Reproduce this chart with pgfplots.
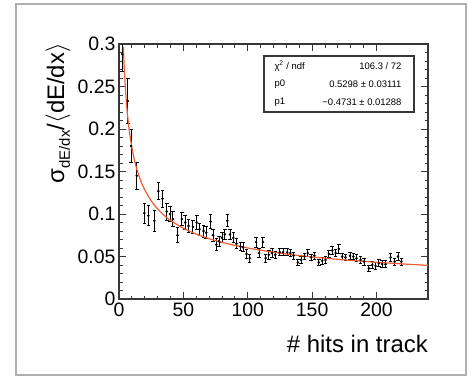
\documentclass[border=0pt]{standalone}
\usepackage{fontspec}
\setmainfont{Liberation Sans}
\usepackage{pgfplots}
\pgfplotsset{compat=1.18}
\definecolor{fitred}{RGB}{238,92,52}
\definecolor{axgray}{RGB}{55,55,55}
\definecolor{framegray}{RGB}{175,175,175}
\pgfplotstableread{
x y e
2.5 0.288 0.020
6.8 0.233 0.026
9.3 0.180 0.019
13.8 0.145 0.016
19.7 0.101 0.012
22.8 0.098 0.012
27.5 0.092 0.012
30.6 0.127 0.010
33.8 0.118 0.010
37.1 0.103 0.010
39.7 0.100 0.009
41.9 0.094 0.009
45.5 0.075 0.009
48.8 0.094 0.008
51.4 0.090 0.008
54.0 0.086 0.008
57.4 0.085 0.008
60.4 0.090 0.008
62.5 0.082 0.007
65.7 0.080 0.007
67.7 0.078 0.007
71.1 0.091 0.008
73.1 0.075 0.007
75.6 0.064 0.007
77.7 0.068 0.006
80.0 0.072 0.006
82.2 0.076 0.006
84.2 0.092 0.007
86.2 0.076 0.006
88.8 0.072 0.006
91.3 0.065 0.006
94.3 0.062 0.005
96.3 0.061 0.005
99.0 0.053 0.005
101.5 0.048 0.005
106.5 0.067 0.006
108.8 0.054 0.005
111.8 0.067 0.006
113.9 0.048 0.005
116.3 0.052 0.005
118.8 0.054 0.005
121.4 0.052 0.004
124.8 0.055 0.004
127.4 0.055 0.004
130.6 0.055 0.004
133.1 0.054 0.004
135.6 0.051 0.004
138.9 0.043 0.004
141.5 0.046 0.004
144.0 0.050 0.004
146.6 0.054 0.004
149.2 0.049 0.004
151.8 0.051 0.004
155.2 0.043 0.004
157.8 0.045 0.004
160.4 0.046 0.004
163.0 0.053 0.004
165.6 0.057 0.005
168.2 0.054 0.004
170.7 0.059 0.005
173.3 0.050 0.004
175.9 0.049 0.004
179.4 0.051 0.004
182.0 0.050 0.004
184.5 0.048 0.004
187.6 0.046 0.004
190.3 0.044 0.004
194.1 0.036 0.004
196.7 0.040 0.004
199.3 0.039 0.004
201.8 0.042 0.004
204.4 0.041 0.004
207.0 0.041 0.004
210.9 0.049 0.005
214.1 0.044 0.004
216.7 0.050 0.005
219.3 0.044 0.004
}\hits
\begin{document}
\begin{tikzpicture}[x=1bp,y=1bp]
\path[use as bounding box, fill=white] (-119,-87) rectangle (357,299);
\draw[framegray, line width=1.5bp] (-103,295) rectangle (347,-76);
\begin{axis}[at={(0,0)}, anchor=south west, width=309bp, height=255bp, scale only axis,
  xmin=0, xmax=240, ymin=0, ymax=0.3,
  xtick={0,50,100,150,200}, ytick={0,0.05,0.1,0.15,0.2,0.25,0.3},
  yticklabels={0,0.05,0.1,0.15,0.2,0.25,0.3},
  minor x tick num=4, minor y tick num=4,
  tick align=inside, major tick length=7bp, minor tick length=3.5bp,
  tick pos=both, xticklabel pos=bottom, yticklabel pos=left,
  axis line style={axgray, line width=1.1bp},
  tick style={axgray, line width=0.9bp},
  ticklabel style={font=\fontsize{19.5}{19.5}\selectfont},
  /pgf/number format/assume math mode=true,
  clip=true]
\addplot[black, mark=*, mark size=1.1bp, only marks,
  error bars/.cd, y dir=both, y explicit,
  error bar style={black, line width=0.9bp},
  error mark options={rotate=90, mark size=1.8bp, line width=0.9bp}]
  table[x=x, y=y, y error=e] {\hits};
\addplot[fitred, line width=1.2bp, smooth] coordinates {
(3.4,0.2969) (4,0.2750) (5,0.2474) (6,0.2270) (7,0.2110) (8,0.1981) (10,0.1782)
(12,0.1635) (14,0.1520) (17,0.1387) (20,0.1284) (25,0.1156) (30,0.1060) (35,0.0985)
(40,0.0925) (50,0.0832) (60,0.0764) (70,0.0710) (80,0.0667) (90,0.0631) (100,0.0600)
(120,0.0550) (140,0.0511) (160,0.0480) (180,0.0454) (200,0.0432) (220,0.0413) (240,0.0396)};
\end{axis}
\draw[axgray, line width=1.2bp, fill=white] (145,187) rectangle (295,243);
\node[anchor=west, font=\fontsize{9.5}{9.5}\selectfont] at (152,233) {χ\textsuperscript{2} / ndf};
\node[anchor=east, font=\fontsize{9.5}{9.5}\selectfont] at (286,233) {106.3 / 72};
\node[anchor=west, font=\fontsize{9.5}{9.5}\selectfont] at (152,214.5) {p0};
\node[anchor=east, font=\fontsize{9.5}{9.5}\selectfont] at (286,214.5) {0.5298 ± 0.03111};
\node[anchor=west, font=\fontsize{9.5}{9.5}\selectfont] at (152,197) {p1};
\node[anchor=east, font=\fontsize{9.5}{9.5}\selectfont] at (286,197) {−0.4731 ± 0.01288};
\node[rotate=90, anchor=east, font=\fontsize{24}{24}\selectfont, inner sep=0pt] at (-61,256)
  {σ\raisebox{-0.45ex}{\fontsize{15}{15}\selectfont dE/dx}/$\langle$dE/dx$\rangle$};
\node[anchor=base east, font=\fontsize{24}{24}\selectfont, inner sep=0pt] at (309,-53) {\# hits in track};
\end{tikzpicture}
\end{document}
